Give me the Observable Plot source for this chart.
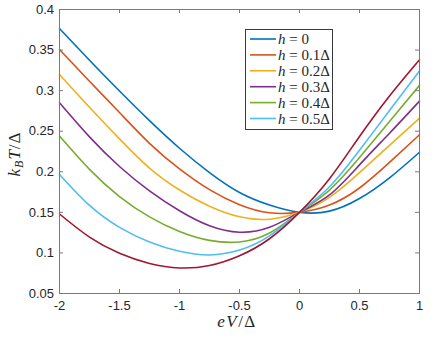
<!DOCTYPE html>
<html>
<head>
<meta charset="utf-8">
<script src="https://cdn.jsdelivr.net/npm/d3@7"></script>
<script src="https://cdn.jsdelivr.net/npm/@observablehq/plot@0.6"></script>
<style>
  html, body { margin: 0; padding: 0; background: #fff; }
  #chart { position: relative; width: 436px; height: 349px; }
</style>
</head>
<body>
<div id="chart"></div>
<script>
// ---- data ----
const xs = [-2, -1.75, -1.5, -1.25, -1, -0.75, -0.5, -0.25, 0, 0.25, 0.5, 0.75, 1];
const h0 = [0.3765, 0.3375, 0.2995, 0.263, 0.229, 0.199, 0.1745, 0.159, 0.150, 0.1515, 0.167, 0.1925, 0.2241];
const h1 = [0.3506, 0.3115, 0.273, 0.235, 0.2035, 0.178, 0.1595, 0.1495, 0.150, 0.159, 0.180, 0.2115, 0.2456];
const h2 = [0.320, 0.2795, 0.2405, 0.2045, 0.1775, 0.1575, 0.1445, 0.1415, 0.150, 0.1685, 0.199, 0.2325, 0.2661];
const h3 = [0.285, 0.243, 0.2065, 0.1765, 0.152, 0.1335, 0.1255, 0.1315, 0.150, 0.1715, 0.2085, 0.2475, 0.2871];
const h4 = [0.244, 0.203, 0.1695, 0.1445, 0.1265, 0.1155, 0.1135, 0.1245, 0.150, 0.1775, 0.2175, 0.262, 0.3065];
const h5 = [0.1966, 0.1585, 0.1315, 0.1135, 0.102, 0.0975, 0.1035, 0.121, 0.150, 0.1815, 0.2265, 0.2755, 0.3242];
const h6 = [0.148, 0.1195, 0.0995, 0.087, 0.0815, 0.0845, 0.0965, 0.1175, 0.150, 0.1915, 0.2435, 0.2935, 0.3382];
const seriesValues = [h0, h1, h2, h3, h4, h5, h6];
const seriesNames = ["h0", "h1", "h2", "h3", "h4", "h5", "h6"];
const legendLabels = ["0", "0.1Δ", "0.2Δ", "0.3Δ", "0.4Δ", "0.5Δ"];
const colors = ["#0072BD", "#D95319", "#EDB120", "#7E2F8E", "#77AC30", "#4DBEEE", "#A2142F"];
const xTicks = [-2, -1.5, -1, -0.5, 0, 0.5, 1];
const xTickLabels = ["-2", "-1.5", "-1", "-0.5", "0", "0.5", "1"];
const yTicks = [0.05, 0.1, 0.15, 0.2, 0.25, 0.3, 0.35, 0.4];
const yTickLabels = ["0.05", "0.1", "0.15", "0.2", "0.25", "0.3", "0.35", "0.4"];

// ---- table ----
const rows = [];
seriesValues.forEach((vals, si) => {
  vals.forEach((v, i) => rows.push({series: seriesNames[si], x: xs[i], y: v}));
});

const W = 436, H = 349;
const mL = 59, mR = 17, mT = 9, mB = 56;
const pw = W - mL - mR, ph = H - mT - mB;
const tickLen = 4;
const axisColor = "#7a7a7a";
const textColor = "#262626";

const svg = Plot.plot({
  width: W,
  height: H,
  marginLeft: mL, marginRight: mR, marginTop: mT, marginBottom: mB,
  style: {background: "#fff", fontFamily: "'Liberation Sans', Arial, sans-serif", fontSize: "13px", color: textColor},
  x: {domain: [-2, 1]},
  y: {domain: [0.05, 0.4]},
  color: {domain: seriesNames, range: colors},
  marks: [
    Plot.line(rows, {x: "x", y: "y", z: "series", stroke: "series", strokeWidth: 1.6, curve: "natural"}),
    Plot.frame({stroke: axisColor, strokeWidth: 1}),
    // inward ticks: bottom, top
    Plot.tickX(xTicks, {x: d => d, stroke: axisColor, insetTop: ph - tickLen}),
    Plot.tickX(xTicks, {x: d => d, stroke: axisColor, insetBottom: ph - tickLen}),
    // inward ticks: left, right
    Plot.tickY(yTicks, {y: d => d, stroke: axisColor, insetRight: pw - tickLen}),
    Plot.tickY(yTicks, {y: d => d, stroke: axisColor, insetLeft: pw - tickLen}),
    Plot.axisX({ticks: xTicks, tickSize: 0, tickPadding: 7, tickFormat: (d) => xTickLabels[xTicks.indexOf(d)], label: null, fontSize: 13, fill: textColor}),
    Plot.axisY({ticks: yTicks, tickSize: 0, tickPadding: 5.5, tickFormat: (d) => yTickLabels[yTicks.indexOf(d)], label: null, fontSize: 13, fill: textColor})
  ]
});

const root = d3.select(svg);
const mathFont = "'Liberation Serif', 'DejaVu Serif', serif";

// x label: eV/Δ
const xl = root.append("text")
  .attr("x", mL + pw / 2 - 2).attr("y", 327)
  .attr("text-anchor", "middle")
  .attr("letter-spacing", 1.5)
  .attr("font-family", mathFont).attr("font-size", 17).attr("fill", textColor);
xl.append("tspan").attr("font-style", "italic").text("eV");
xl.append("tspan").text("/Δ");

// y label: k_B T/Δ
const yl = root.append("text")
  .attr("transform", `translate(20,${mT + ph / 2 + 3}) rotate(-90)`)
  .attr("text-anchor", "middle")
  .attr("letter-spacing", 1)
  .attr("font-family", mathFont).attr("font-size", 17).attr("fill", textColor);
yl.append("tspan").attr("font-style", "italic").text("k");
yl.append("tspan").attr("font-style", "italic").attr("font-size", 12).attr("dy", 3).text("B");
yl.append("tspan").attr("font-style", "italic").attr("dy", -3).text("T");
yl.append("tspan").text("/Δ");

// legend
const lg = root.append("g");
lg.append("rect").attr("x", 245.5).attr("y", 29.5).attr("width", 87).attr("height", 100)
  .attr("fill", "#fff").attr("stroke", "#3a3a3a").attr("stroke-width", 1);
legendLabels.forEach((lab, i) => {
  const yy = 39 + i * 15.9;
  lg.append("line").attr("x1", 250).attr("x2", 276).attr("y1", yy).attr("y2", yy)
    .attr("stroke", colors[i]).attr("stroke-width", 1.6);
  const t = lg.append("text").attr("x", 278).attr("y", yy + 5)
    .attr("text-anchor", "start")
    .attr("font-family", mathFont).attr("font-size", 15).attr("fill", textColor);
  t.append("tspan").attr("font-style", "italic").text("h");
  t.append("tspan").text(" = " + lab);
});

document.getElementById("chart").appendChild(svg);
</script>
</body>
</html>
